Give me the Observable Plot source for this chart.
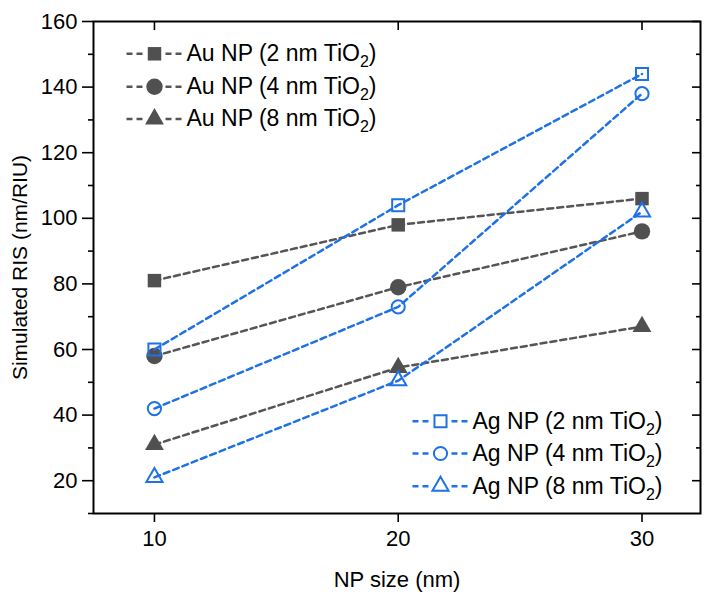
<!DOCTYPE html>
<html><head><meta charset="utf-8">
<script src="https://cdn.jsdelivr.net/npm/d3@7"></script>
<script src="https://cdn.jsdelivr.net/npm/@observablehq/plot@0.6"></script>
<style>body{margin:0;background:#fff}</style>
</head><body><div id="chart"></div>
<script>
// ---- data ----
const npSize = [10, 20, 30];
const auLabels = ["Au NP (2 nm TiO2)", "Au NP (4 nm TiO2)", "Au NP (8 nm TiO2)"];
const agLabels = ["Ag NP (2 nm TiO2)", "Ag NP (4 nm TiO2)", "Ag NP (8 nm TiO2)"];
const au2 = [81, 98, 106];
const au4 = [58, 79, 96];
const au8 = [31, 54.5, 67];
const ag2 = [60, 104, 144];
const ag4 = [42, 73, 138];
const ag8 = [21, 50.5, 102];
const yMajor = [20, 40, 60, 80, 100, 120, 140, 160];
const yMinor = [10, 30, 50, 70, 90, 110, 130, 150];
const xTicks = [10, 20, 30];
const xTitle = "NP size (nm)";
const yTitle = "Simulated RIS (nm/RIU)";

// ---- styling ----
const W = 709, H = 597, ML = 93, MR = 9, MT = 21, MB = 84;
const PW = W - ML - MR, PH = H - MT - MB;
const gray = "#505050", grayLine = "#555555", blue = "#1f72e6";
const symbols = ["square", "circle", "triangle"];
const auR = {square: 7.6, circle: 8.2, triangle: 7.0};
const agR = {square: 6.8, circle: 6.6, triangle: 6.0};

const rows = (series, labels) => series.flatMap((vals, i) =>
  vals.map((v, j) => ({x: npSize[j], y: v, series: labels[i], sym: symbols[i]})));
const auRows = rows([au2, au4, au8], auLabels);
const agRows = rows([ag2, ag4, ag8], agLabels);

const dash = "6,4";
const legendLine = {draw(ctx) { ctx.moveTo(-28, 0); ctx.lineTo(-12, 0); ctx.moveTo(11, 0); ctx.lineTo(27, 0); }};

const marks = [
  // axes
  Plot.axisY(yMajor, {anchor: "left", tickSize: 11, tickPadding: 5, strokeWidth: 1.6, label: null, fontSize: 22}),
  Plot.axisY(yMinor, {anchor: "left", tickSize: 5, text: null, strokeWidth: 1.6, label: null}),
  Plot.axisX(xTicks, {anchor: "bottom", tickSize: 9, tickPadding: 8, strokeWidth: 1.6, label: null, fontSize: 22}),
  Plot.tickY(yMajor, {y: d => d, insetLeft: PW - 8, stroke: "#000", strokeWidth: 1.6}),
  Plot.tickY(yMinor.filter(d => d > 10), {y: d => d, insetLeft: PW - 4, stroke: "#000", strokeWidth: 1.6}),
  Plot.tickX(xTicks, {x: d => d, insetBottom: PH - 9, stroke: "#000", strokeWidth: 1.6}),
  Plot.frame({stroke: "#000", strokeWidth: 2}),
  // titles
  Plot.text([yTitle], {text: d => d, frameAnchor: "left", dx: -73, rotate: -90, textAnchor: "middle", lineAnchor: "middle", fontSize: 21}),
  Plot.text([xTitle], {text: d => d, frameAnchor: "bottom", dy: 66, textAnchor: "middle", lineAnchor: "middle", fontSize: 22}),
  // Au series
  Plot.line(auRows, {x: "x", y: "y", z: "series", stroke: grayLine, strokeWidth: 2.5, strokeDasharray: dash}),
  ...symbols.map(s => Plot.dot(auRows.filter(d => d.sym === s), {x: "x", y: "y", symbol: s, r: auR[s], fill: gray, stroke: "none"})),
  // Ag series
  Plot.line(agRows, {x: "x", y: "y", z: "series", stroke: blue, strokeWidth: 2.5, strokeDasharray: dash}),
  ...symbols.map(s => Plot.dot(agRows.filter(d => d.sym === s), {x: "x", y: "y", symbol: s, r: agR[s], fill: "none", stroke: blue, strokeWidth: 2})),
];

// legends
const topDy = [32.3, 65.2, 97.5];
auLabels.forEach((lab, i) => {
  marks.push(Plot.dot([lab], {frameAnchor: "top-left", dx: 61, dy: topDy[i], symbol: legendLine, stroke: grayLine, strokeWidth: 2.5, strokeDasharray: dash, fill: "none"}));
  marks.push(Plot.dot([lab], {frameAnchor: "top-left", dx: 61, dy: topDy[i], symbol: symbols[i], r: auR[symbols[i]], fill: gray, stroke: "none"}));
  marks.push(Plot.text([lab], {text: d => d, frameAnchor: "top-left", dx: 93, dy: topDy[i], textAnchor: "start", lineAnchor: "middle", fontSize: 23}));
});
const botDy = [399.7, 432, 464.7];
agLabels.forEach((lab, i) => {
  marks.push(Plot.dot([lab], {frameAnchor: "top-left", dx: 347, dy: botDy[i], symbol: legendLine, stroke: blue, strokeWidth: 2.5, strokeDasharray: dash, fill: "none"}));
  marks.push(Plot.dot([lab], {frameAnchor: "top-left", dx: 347, dy: botDy[i], symbol: symbols[i], r: agR[symbols[i]], fill: "none", stroke: blue, strokeWidth: 2}));
  marks.push(Plot.text([lab], {text: d => d, frameAnchor: "top-left", dx: 379, dy: botDy[i], textAnchor: "start", lineAnchor: "middle", fontSize: 23}));
});

const chart = Plot.plot({
  width: W, height: H,
  marginLeft: ML, marginRight: MR, marginTop: MT, marginBottom: MB,
  x: {domain: [7.5, 32.4]},
  y: {domain: [10, 160]},
  style: {fontFamily: "'Liberation Sans', Arial, sans-serif", fontSize: "22px", color: "#000", background: "#fff"},
  marks
});

// subscript the "2" in TiO2
chart.querySelectorAll("text").forEach(t => {
  const s = t.textContent;
  if (s.endsWith("TiO2)")) {
    t.textContent = "";
    const ns = "http://www.w3.org/2000/svg";
    t.appendChild(document.createTextNode(s.slice(0, -2)));
    const sub = document.createElementNS(ns, "tspan");
    sub.setAttribute("dy", "6"); sub.setAttribute("font-size", "16");
    sub.textContent = "2";
    const close = document.createElementNS(ns, "tspan");
    close.setAttribute("dy", "-6");
    close.textContent = ")";
    t.appendChild(sub); t.appendChild(close);
  }
});
document.getElementById("chart").appendChild(chart);
</script>
</body></html>
